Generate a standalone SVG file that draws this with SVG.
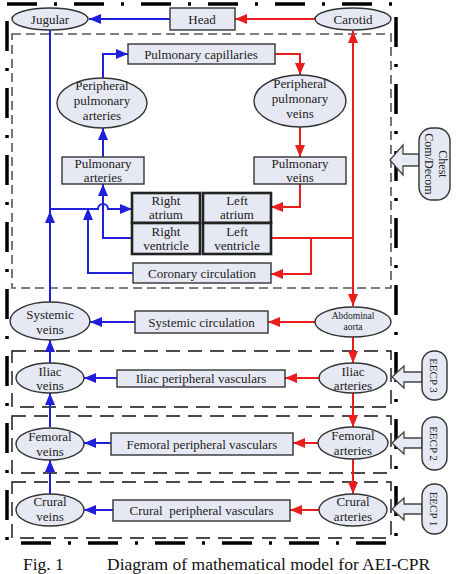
<svg xmlns="http://www.w3.org/2000/svg" width="462" height="574" viewBox="0 0 462 574">
<style>
text{font-family:"Liberation Serif","Times New Roman",serif;font-size:13px;fill:#222;text-anchor:middle}
.n{fill:#e6e9f4;stroke:#333;stroke-width:1.4}
.h{fill:#e6e9f4;stroke:#222;stroke-width:2.6}
.b{fill:none;stroke:#2020dc;stroke-width:2}
.r{fill:none;stroke:#ea1c1c;stroke-width:2}
.bb{marker-end:url(#ab)}
.rr{marker-end:url(#ar)}
.sec{fill:none;stroke:#111;stroke-width:1.4;stroke-dasharray:14 8}
.ch{fill:none;stroke:#555;stroke-width:1.6;stroke-dasharray:9 5}
.out{fill:none;stroke:#000;stroke-width:3.5;stroke-dasharray:30 17 3 17}
.ha{fill:#e8ebf3;stroke:#444;stroke-width:1.3}
</style>
<defs>
<marker id="ab" markerUnits="userSpaceOnUse" markerWidth="12" markerHeight="10" refX="12" refY="5" orient="auto"><path d="M0,0 L12,5 L0,10 z" fill="#2020dc"/></marker>
<marker id="ar" markerUnits="userSpaceOnUse" markerWidth="12" markerHeight="10" refX="12" refY="5" orient="auto"><path d="M0,0 L12,5 L0,10 z" fill="#ea1c1c"/></marker>
</defs>

<g id="borders">
<rect class="out" x="7" y="4" width="389" height="539"/>
<rect class="ch" x="12" y="34" width="379" height="254"/>
<rect class="sec" x="12" y="351" width="379" height="56"/>
<rect class="sec" x="12" y="416" width="379" height="57"/>
<rect class="sec" x="12" y="482" width="379" height="56"/>
</g>

<g id="connectors">
<path class="b bb" d="M170,19 L89,19"/>
<path class="r rr" d="M315,19 L235,19"/>
<path class="b bb" d="M103,78 L103,54 L128,54"/>
<path class="r rr" d="M275,54 L300,54 L300,75"/>
<path class="b bb" d="M103,157 L103,128"/>
<path class="r rr" d="M300,127 L300,157"/>
<path class="r rr" d="M300,184 L300,207 L271,207"/>
<path class="b" d="M50,30 L50,303"/>
<path class="b bb" d="M50,223 L50,211"/>
<path class="b bb" d="M50,209 L98,209 A5,5 0 0 1 108,209 L132,209"/>
<path class="b bb" d="M133,273 L88,273 L88,208"/>
<path class="b bb" d="M132,238 L103,238 L103,184"/>
<path class="r rr" d="M353,200 L353,31"/>
<path class="r rr" d="M353,200 L353,306"/>
<path class="r" d="M271,238 L353,238"/>
<path class="r rr" d="M311,238 L311,274 L271,274"/>
<path class="r rr" d="M315,322 L268,322"/>
<path class="b bb" d="M135,322 L90,322"/>
<path class="r rr" d="M320,378 L285,378"/>
<path class="b bb" d="M117,378 L84,378"/>
<path class="r rr" d="M318,443 L293,443"/>
<path class="b bb" d="M111,443 L84,443"/>
<path class="r rr" d="M319,510 L290,510"/>
<path class="b bb" d="M113,510 L84,510"/>
<path class="b bb" d="M50,363 L50,340"/>
<path class="b bb" d="M50,427 L50,393"/>
<path class="b bb" d="M50,494 L50,460"/>
<path class="r rr" d="M353,337 L353,363"/>
<path class="r rr" d="M353,393 L353,427"/>
<path class="r rr" d="M353,459 L353,494"/>
</g>

<g id="jugular"><ellipse class="n" cx="50" cy="19" rx="38" ry="11"/><text x="50" y="23.5">Jugular</text></g>
<g id="head"><rect class="n" x="170" y="8" width="65" height="22"/><text x="202" y="23.5">Head</text></g>
<g id="carotid"><ellipse class="n" cx="353" cy="19" rx="38" ry="11"/><text x="353" y="23.5">Carotid</text></g>

<g id="pulm-cap"><rect class="n" x="128" y="44" width="147" height="20"/><text x="201" y="58.5">Pulmonary capillaries</text></g>
<g id="ppa"><ellipse class="n" cx="102" cy="103" rx="45" ry="25"/><text x="102" y="90">Peripheral</text><text x="102" y="105">pulmonary</text><text x="102" y="120">arteries</text></g>
<g id="ppv"><ellipse class="n" cx="300" cy="101" rx="46" ry="26"/><text x="300" y="88">Peripheral</text><text x="300" y="103">pulmonary</text><text x="300" y="118">veins</text></g>
<g id="pulm-art"><rect class="n" x="62" y="157" width="82" height="27"/><text x="103" y="167.5">Pulmonary</text><text x="103" y="181.5">arteries</text></g>
<g id="pulm-vein"><rect class="n" x="254" y="157" width="92" height="27"/><text x="300" y="167.5">Pulmonary</text><text x="300" y="181.5">veins</text></g>

<g id="right-atrium"><rect class="h" x="132" y="193" width="68" height="30"/><text x="166" y="204.5">Right</text><text x="166" y="218.5">atrium</text></g>
<g id="right-ventricle"><rect class="h" x="132" y="223" width="68" height="31"/><text x="166" y="235.5">Right</text><text x="166" y="249.5">ventricle</text></g>
<g id="left-atrium"><rect class="h" x="203" y="193" width="68" height="30"/><text x="237" y="204.5">Left</text><text x="237" y="218.5">atrium</text></g>
<g id="left-ventricle"><rect class="h" x="203" y="223" width="68" height="31"/><text x="237" y="235.5">Left</text><text x="237" y="249.5">ventricle</text></g>
<g id="coronary"><rect class="n" x="133" y="263" width="138" height="20"/><text x="202" y="277.5">Coronary circulation</text></g>

<g id="systemic-veins"><ellipse class="n" cx="50" cy="321" rx="40" ry="19"/><text x="50" y="318.5">Systemic</text><text x="50" y="333.5">veins</text></g>
<g id="systemic-circ"><rect class="n" x="135" y="311" width="133" height="22"/><text x="201.5" y="326.5">Systemic circulation</text></g>
<g id="abdominal"><ellipse class="n" cx="353" cy="322" rx="38" ry="15"/><text x="353" y="319" style="font-size:9.5px">Abdominal</text><text x="353" y="330" style="font-size:9.5px">aorta</text></g>

<g id="iliac-veins"><ellipse class="n" cx="50" cy="378" rx="34" ry="15"/><text x="50" y="375.5">Iliac</text><text x="50" y="390">veins</text></g>
<g id="iliac-pv"><rect class="n" x="117" y="370" width="168" height="17"/><text x="201" y="383">Iliac peripheral vasculars</text></g>
<g id="iliac-arteries"><ellipse class="n" cx="353" cy="378" rx="34" ry="15"/><text x="353" y="375.5">Iliac</text><text x="353" y="390">arteries</text></g>

<g id="femoral-veins"><ellipse class="n" cx="50" cy="444" rx="34" ry="16"/><text x="50" y="441">Femoral</text><text x="50" y="456">veins</text></g>
<g id="femoral-pv"><rect class="n" x="111" y="433" width="182" height="22"/><text x="202" y="448.5">Femoral peripheral vasculars</text></g>
<g id="femoral-arteries"><ellipse class="n" cx="353" cy="443" rx="35" ry="16"/><text x="353" y="440">Femoral</text><text x="353" y="455">arteries</text></g>

<g id="crural-veins"><ellipse class="n" cx="50" cy="510" rx="34" ry="16"/><text x="50" y="506">Crural</text><text x="50" y="521">veins</text></g>
<g id="crural-pv"><rect class="n" x="113" y="500" width="177" height="21"/><text x="201.5" y="514.5" xml:space="preserve">Crural  peripheral vasculars</text></g>
<g id="crural-arteries"><ellipse class="n" cx="353" cy="510" rx="34" ry="16"/><text x="353" y="506">Crural</text><text x="353" y="521">arteries</text></g>

<g id="chest">
<polygon class="ha" points="390,160 403,145 403,154 419,154 419,166 403,166 403,175"/>
<rect class="n" x="419" y="128" width="31" height="72" rx="13"/>
<text transform="translate(438.5,164) rotate(90)" style="font-size:12px">Chest</text>
<text transform="translate(425,164) rotate(90)" style="font-size:12px">Com/Decom</text>
</g>
<g id="eecp3">
<polygon class="ha" points="392,377 404,366 404,372 422,372 422,382 404,382 404,388"/>
<rect class="n" x="422" y="351" width="25" height="49" rx="12"/>
<text transform="translate(430,375.5) rotate(90)" style="font-size:11px">EECP 3</text>
</g>
<g id="eecp2">
<polygon class="ha" points="392,443 404,432 404,438 422,438 422,448 404,448 404,454"/>
<rect class="n" x="422" y="417" width="25" height="53" rx="12"/>
<text transform="translate(430,443.5) rotate(90)" style="font-size:11px">EECP 2</text>
</g>
<g id="eecp1">
<polygon class="ha" points="392,509 404,498 404,504 422,504 422,514 404,514 404,520"/>
<rect class="n" x="422" y="484" width="25" height="50" rx="12"/>
<text transform="translate(430,509) rotate(90)" style="font-size:11px">EECP 1</text>
</g>

<g id="caption">
<text x="23" y="570" style="font-size:17.5px;text-anchor:start;fill:#111">Fig. 1</text>
<text x="107" y="570" style="font-size:17.5px;text-anchor:start;fill:#111">Diagram of mathematical model for AEI-CPR</text>
</g>
</svg>
